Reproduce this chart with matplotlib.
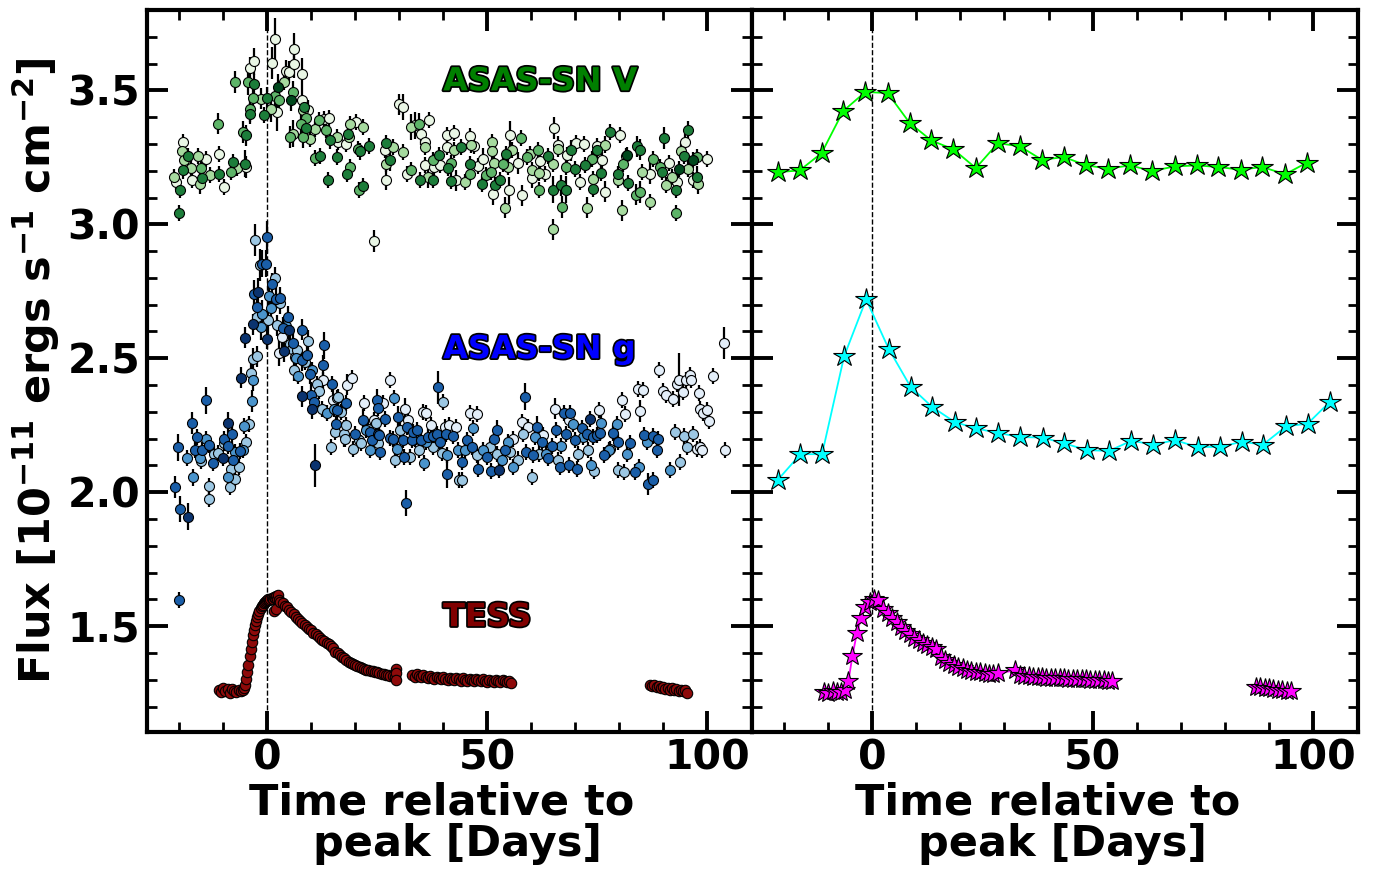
import numpy as np
import matplotlib.pyplot as plt
import matplotlib.patheffects as pe
from matplotlib.ticker import MultipleLocator

plt.rcParams['font.family'] = 'DejaVu Sans'
plt.rcParams['font.weight'] = 'bold'
plt.rcParams['axes.labelweight'] = 'bold'
plt.rcParams['mathtext.default'] = 'bf'

# ASAS-SN V light curve, one list per camera: (days from peak, flux, error)
v_cam1 = [(-20.8,3.158,.03),(-19.2,3.307,.03),(-17.0,3.164,.03),(-13.9,3.245,.03),(-11.0,3.264,.03),
          (-9.9,3.139,.03),(-4.9,3.214,.04),(-4.0,3.583,.04),(-3.0,3.608,.05),(1.0,3.602,.06),
          (1.9,3.690,.08),(2.3,3.419,.07),(4.2,3.572,.04),(4.9,3.568,.04),(6.1,3.655,.06),
          (6.1,3.597,.05),(8.0,3.560,.06),(7.9,3.463,.04),(9.2,3.425,.04),(13.0,3.394,.03),
          (14.0,3.398,.03),(16.1,3.307,.03),(17.9,3.299,.03),(20.1,3.382,.03),(24.2,2.938,.04),
          (26.7,3.276,.03),(27.0,3.167,.04),(29.9,3.448,.04),(30.8,3.438,.05),(31.8,3.189,.03),
          (33.7,3.369,.05),(35.0,3.338,.04),(35.8,3.307,.04),(36.8,3.388,.03),(35.8,3.220,.03),
          (38.0,3.214,.04),(39.2,3.223,.03),(40.8,3.332,.03),(40.8,3.289,.03),(42.5,3.341,.03),
          (42.9,3.164,.04),(46.0,3.328,.03),(47.1,3.294,.03),(48.0,3.218,.03),(49.0,3.245,.04),
          (51.3,3.114,.04),(55.2,3.335,.05),(55.0,3.127,.05),(57.1,3.229,.04),(57.9,3.108,.04),
          (60.1,3.174,.04),(62.0,3.235,.04),(63.2,3.187,.03),(65.1,3.359,.04),(66.0,3.298,.03),
          (68.2,3.257,.03),(70.2,3.303,.03),(71.0,3.158,.03),(72.0,3.301,.03),(74.9,3.294,.03),
          (76.0,3.239,.03),(76.9,3.122,.04),(80.1,3.335,.03),(81.5,3.254,.03),(87.0,3.189,.04),
          (91.4,3.229,.03),(93.1,3.158,.03),(95.0,3.307,.03),(96.7,3.164,.03),(99.9,3.245,.03)]
v_cam2 = [(-21.2,3.177,.03),(-19.3,3.274,.03),(-18.9,3.239,.03),(-17.3,3.210,.03),(-15.8,3.254,.03),
          (-15.2,3.152,.04),(-12.9,3.183,.03),(-6.8,3.211,.03),(-1.4,3.469,.04),(0.8,3.432,.05),
          (3.8,3.531,.03),(5.8,3.338,.05),(8.1,3.425,.04),(9.8,3.320,.03),(10.8,3.357,.03),
          (15.9,3.326,.03),(18.7,3.326,.03),(18.9,3.376,.03),(21.9,3.363,.03),(27.0,3.224,.03),
          (28.7,3.289,.03),(30.8,3.270,.03),(32.7,3.363,.05),(35.9,3.289,.03),(36.6,3.177,.04),
          (42.4,3.279,.03),(45.0,3.158,.03),(46.3,3.298,.03),(51.0,3.307,.03),(51.0,3.274,.03),
          (51.6,3.230,.03),(54.1,3.062,.04),(54.8,3.214,.03),(55.7,3.279,.03),(59.8,3.261,.03),
          (60.1,3.201,.03),(61.9,3.192,.03),(64.9,3.226,.03),(64.9,2.981,.04),(66.2,3.282,.03),
          (72.6,3.062,.04),(74.1,3.170,.03),(76.9,3.298,.03),(79.8,3.164,.03),(80.6,3.052,.04),
          (85.1,3.195,.03),(87.0,3.083,.03),(90.7,3.146,.03),(92.1,3.177,.03),(94.0,3.274,.03),
          (95.7,3.207,.03),(98.0,3.152,.04)]
v_cam3 = [(-15.0,3.210,.03),(-11.1,3.376,.04),(-8.2,3.195,.03),(-7.2,3.531,.04),(-5.4,3.345,.04),
          (-4.4,3.531,.05),(-4.0,3.432,.05),(-3.3,3.471,.04),(1.7,3.478,.04),(2.8,3.465,.04),
          (5.8,3.494,.04),(5.1,3.326,.04),(8.9,3.397,.04),(7.7,3.376,.04),(8.1,3.326,.04),
          (11.9,3.391,.03),(13.4,3.351,.03),(10.9,3.249,.03),(20.6,3.282,.03),(18.9,3.214,.03),
          (20.9,3.129,.03),(32.7,3.204,.03),(34.6,3.376,.04),(37.7,3.239,.03),(41.8,3.229,.03),
          (46.0,3.189,.03),(49.8,3.183,.03),(50.8,3.195,.03),(53.7,3.226,.03),(57.6,3.323,.03),
          (59.0,3.251,.03),(61.6,3.279,.03),(61.9,3.127,.03),(67.1,3.065,.04),(67.9,3.214,.03),
          (73.8,3.245,.03),(80.8,3.226,.03),(83.8,3.111,.04),(84.8,3.120,.04),(87.8,3.245,.03),
          (89.3,3.214,.03),(92.9,3.044,.03),(97.6,3.251,.03)]
v_cam4 = [(-19.9,3.127,.03),(-20.1,3.044,.03),(-19.2,3.201,.03),(-17.9,3.255,.03),(-14.8,3.174,.03),
          (-11.0,3.187,.03),(-7.8,3.231,.03),(-5.1,3.226,.05),(-4.9,3.332,.04),(-3.0,3.522,.04),
          (-4.0,3.413,.04),(-0.6,3.407,.03),(0.0,3.471,.04),(8.3,3.438,.04),(8.9,3.359,.04),
          (12.0,3.254,.03),(13.8,3.167,.03),(14.3,3.313,.03),(15.9,3.251,.03),(18.3,3.338,.03),
          (21.0,3.272,.03),(18.1,3.189,.03),(21.9,3.142,.03),(23.1,3.291,.03),(27.0,3.303,.03),
          (28.0,3.239,.04),(34.8,3.164,.03),(37.8,3.164,.03),(39.0,3.257,.03),(41.1,3.210,.03),
          (41.9,3.162,.03),(44.1,3.289,.03),(46.1,3.224,.03),(48.9,3.149,.03),(51.8,3.146,.03),
          (52.9,3.164,.03),(54.2,3.264,.03),(63.9,3.254,.03),(64.9,3.129,.05),(66.9,3.146,.04),
          (67.9,3.129,.05),(69.0,3.276,.04),(70.0,3.207,.03),(72.3,3.220,.03),(74.0,3.133,.03),
          (74.9,3.276,.03),(75.8,3.192,.03),(78.0,3.344,.03),(79.7,3.189,.03),(82.1,3.154,.03),
          (84.0,3.291,.04),(84.8,3.279,.04),(89.7,3.195,.03),(90.1,3.322,.04),(92.9,3.127,.03),
          (94.8,3.254,.03),(95.7,3.354,.03),(97.8,3.177,.04)]
v_cam5 = [(2.4,3.512,.05),(5.5,3.463,.04),(81.9,3.257,.03),(93.7,3.207,.03),(96.9,3.239,.03)]

# ASAS-SN g light curve, one list per camera
g_cam1 = [(3.3,2.580,.04),(2.8,2.520,.05),(12.7,2.420,.03),(14.9,2.346,.04),(18.2,2.402,.04),
          (19.2,2.428,.03),(22.0,2.333,.03),(24.2,2.271,.03),(26.4,2.333,.03),(28.0,2.420,.03),
          (31.4,2.312,.04),(32.1,2.269,.03),(35.5,2.300,.03),(36.1,2.296,.03),(37.2,2.250,.03),
          (40.4,2.244,.03),(41.4,2.250,.03),(42.9,2.244,.03),(46.1,2.296,.03),(47.6,2.291,.03),
          (55.8,2.200,.03),(57.9,2.262,.03),(59.4,2.244,.03),(62.8,2.213,.03),(65.4,2.312,.04),
          (68.5,2.269,.03),(75.5,2.308,.03),(80.6,2.343,.03),(81.3,2.291,.03),(84.4,2.387,.03),
          (85.4,2.381,.03),(84.8,2.303,.04),(89.1,2.455,.03),(89.9,2.378,.03),(90.7,2.362,.03),
          (92.3,2.349,.03),(93.2,2.405,.03),(93.5,2.420,.10),(94.5,2.374,.03),(95.2,2.420,.03),
          (96.1,2.437,.03),(96.3,2.420,.03),(97.6,2.163,.03),(98.4,2.169,.03),(98.8,2.159,.03),
          (98.2,2.371,.03),(98.4,2.312,.03),(99.1,2.296,.03),(99.9,2.306,.03),(100.5,2.266,.03),
          (101.3,2.433,.03),(103.9,2.557,.06),(104.1,2.157,.03)]
g_cam2 = [(-15.0,2.117,.03),(-13.3,2.024,.03),(-13.1,1.976,.03),(-12.1,2.144,.03),(-11.1,2.148,.03),
          (-9.7,2.184,.03),(-8.4,2.020,.03),(-8.3,2.085,.03),(-7.3,2.051,.03),(-6.4,2.095,.03),
          (-4.8,2.188,.03),(-4.2,2.254,.03),(-3.6,2.445,.04),(-3.1,2.499,.04),(-2.2,2.507,.04),
          (-2.2,2.654,.05),(-2.7,2.943,.06),(-1.6,2.847,.06),(0.3,2.642,.05),(1.8,2.801,.04),
          (2.9,2.706,.04),(2.2,2.623,.04),(5.1,2.555,.03),(5.6,2.536,.03),(6.0,2.455,.04),
          (6.4,2.505,.03),(6.9,2.530,.03),(8.6,2.486,.03),(9.4,2.565,.04),(11.3,2.405,.03),
          (11.9,2.378,.03),(12.4,2.312,.03),(15.8,2.353,.03),(16.2,2.356,.03),(16.9,2.300,.03),
          (15.5,2.225,.03),(17.5,2.219,.05),(14.5,2.169,.03),(18.0,2.250,.03),(17.6,2.200,.03),
          (19.6,2.163,.03),(20.9,2.194,.03),(21.4,2.184,.03),(23.0,2.237,.03),(24.8,2.259,.03),
          (25.3,2.182,.03),(29.1,2.119,.03),(30.2,2.234,.03),(32.5,2.132,.03),(34.6,2.157,.03),
          (37.8,2.169,.03),(39.9,2.337,.03),(39.7,2.147,.03),(43.7,2.045,.03),(44.2,2.047,.03),
          (47.6,2.138,.03),(50.7,2.169,.03),(52.2,2.144,.03),(55.2,2.150,.03),(57.1,2.122,.03),
          (58.2,2.219,.03),(60.1,2.057,.03),(61.9,2.144,.03),(66.0,2.119,.03),(70.7,2.144,.03),
          (73.0,2.157,.03),(74.3,2.080,.03),(77.9,2.163,.03),(79.7,2.082,.03),(81.0,2.076,.03),
          (92.7,2.225,.03),(93.8,2.113,.03),(94.8,2.209,.03),(96.7,2.219,.03),(95.5,2.169,.03)]
g_cam3 = [(-18.1,2.129,.03),(-16.9,2.055,.03),(-15.3,2.126,.03),(-13.9,2.197,.03),(-9.0,2.057,.03),
          (-7.4,2.150,.03),(-5.4,2.157,.03),(-5.2,2.246,.03),(-3.5,2.341,.04),(-3.1,2.418,.04),
          (-1.4,2.617,.05),(-1.2,2.667,.05),(0.5,2.731,.05),(0.9,2.687,.04),(4.3,2.619,.04),
          (6.6,2.502,.03),(7.1,2.433,.03),(10.2,2.455,.03),(13.6,2.294,.03),(15.3,2.312,.03),
          (22.5,2.231,.03),(23.3,2.157,.03),(28.9,2.353,.03),(29.5,2.163,.03),(33.6,2.200,.03),
          (35.6,2.109,.03),(36.1,2.188,.03),(40.8,2.138,.03),(43.3,2.157,.03),(45.0,2.157,.03),
          (46.9,2.238,.03),(49.0,2.159,.03),(53.3,2.119,.03),(54.8,2.188,.03),(55.8,2.095,.03),
          (60.9,2.206,.03),(63.4,2.144,.03),(66.7,2.172,.03),(69.6,2.256,.03),(71.7,2.206,.03),
          (73.5,2.101,.03),(75.9,2.259,.03),(77.6,2.157,.03),(79.5,2.254,.03),(81.7,2.144,.03),
          (84.6,2.095,.03),(86.3,2.188,.03),(91.6,2.082,.03)]
g_cam4 = [(-20.9,2.020,.04),(-19.9,1.937,.05),(-20.2,2.167,.05),(-20.0,1.597,.03),(-17.1,2.259,.04),
          (-16.0,2.206,.03),(-16.4,2.157,.03),(-14.8,2.159,.03),(-13.8,2.343,.05),(-13.1,2.175,.03),
          (-12.2,2.109,.03),(-9.9,2.200,.03),(-8.8,2.172,.03),(-8.0,2.219,.04),(-7.8,2.122,.03),
          (-6.1,2.154,.03),(-2.2,2.692,.04),(-2.9,2.741,.05),(-0.1,2.953,.06),(-1.2,2.853,.05),
          (-0.2,2.853,.05),(1.1,2.779,.04),(2.0,2.723,.04),(3.0,2.725,.04),(3.7,2.614,.04),
          (4.7,2.654,.04),(5.8,2.557,.04),(7.9,2.607,.04),(8.0,2.493,.04),(9.0,2.511,.04),
          (9.8,2.443,.04),(9.9,2.362,.05),(10.7,2.337,.03),(13.0,2.549,.05),(12.8,2.474,.04),
          (14.7,2.403,.03),(15.8,2.308,.04),(17.9,2.333,.03),(15.7,2.256,.03),(20.0,2.219,.03),
          (21.8,2.269,.04),(23.4,2.225,.03),(23.8,2.194,.03),(24.9,2.346,.04),(25.1,2.316,.03),
          (25.1,2.219,.03),(25.7,2.150,.03),(25.5,2.213,.03),(26.8,2.275,.03),(28.0,2.204,.03),
          (28.7,2.197,.03),(29.8,2.281,.04),(30.8,2.194,.03),(31.0,2.132,.03),(31.6,1.960,.05),
          (31.7,2.244,.03),(32.9,2.194,.03),(33.1,2.225,.03),(34.0,2.231,.03),(35.0,2.194,.03),
          (36.6,2.206,.03),(37.6,2.209,.03),(38.9,2.391,.06),(38.7,2.219,.03),(39.3,2.188,.03),
          (40.6,2.219,.03),(40.8,2.067,.05),(42.2,2.209,.03),(45.4,2.194,.03),(44.2,2.113,.03),
          (46.5,2.169,.03),(48.0,2.088,.03),(49.9,2.132,.03),(50.8,2.080,.03),(51.6,2.200,.03),
          (52.3,2.231,.04),(54.1,2.157,.03),(58.6,2.356,.05),(58.8,2.150,.03),(60.5,2.138,.03),
          (61.3,2.244,.04),(62.4,2.188,.03),(63.9,2.126,.03),(64.7,2.172,.03),(65.7,2.231,.03),
          (66.6,2.095,.03),(67.5,2.294,.03),(67.9,2.219,.03),(68.8,2.294,.03),(68.7,2.101,.03),
          (70.0,2.194,.03),(70.5,2.088,.03),(71.5,2.238,.03),(72.6,2.219,.03),(74.0,2.206,.03),
          (74.9,2.213,.03),(75.7,2.222,.03),(76.6,2.138,.03),(78.7,2.222,.03),(79.8,2.188,.03),
          (82.5,2.182,.03),(83.6,2.076,.03),(85.7,2.213,.03),(86.6,2.030,.04),(87.8,2.047,.03),
          (87.6,2.209,.03),(88.9,2.197,.03),(88.5,2.157,.03)]
g_cam5 = [(-17.9,1.908,.05),(-10.1,2.129,.03),(-9.0,2.259,.04),(-6.0,2.428,.04),(-5.0,2.577,.04),
          (-3.1,2.627,.04),(-2.0,2.748,.05),(-0.1,2.573,.04),(4.9,2.604,.04),(3.9,2.527,.04),
          (7.9,2.358,.04),(10.2,2.312,.04),(10.9,2.101,.08),(52.8,2.082,.03),(73.4,2.275,.03)]

# TESS light curve
tess_t = [-11.0,-10.5,-10.0,-9.5,-9.0,-8.5,-8.0,-7.5,-7.0,-6.5,-6.0,-5.5,
          -5.25,-5.0,-4.75,-4.5,-4.25,-4.0,-3.75,-3.5,-3.25,-3.0,-2.75,-2.5,-2.25,-2.0,
          -1.75,-1.5,-1.25,-1.0,-0.75,-0.5,-0.25,0.0,0.25,0.5,0.75,1.0,1.25,1.5,1.5,1.75,
          2.0,2.0,2.25,2.5,2.75,3.0,
          3.5,4.0,4.5,5.0,5.5,6.0,6.5,7.0,7.5,8.0,8.5,9.0,9.5,10.0,10.5,11.0,11.5,12.0,12.5,
          13.0,13.5,14.0,14.5,15.0,15.5,16.0,16.5,17.0,17.5,18.0,18.5,19.0,19.5,20.0,20.5,
          21.0,21.5,22.0,22.5,23.0,23.5,24.0,24.5,25.0,25.5,26.0,26.5,27.0,27.5,28.0,28.5,
          29.0,29.3,29.3,29.3,
          33.0,33.5,34.0,34.5,35.0,35.5,36.0,36.5,37.0,37.5,38.0,38.5,39.0,39.5,40.0,40.5,
          41.0,41.5,42.0,42.5,43.0,43.5,44.0,44.5,45.0,45.5,46.0,46.5,47.0,47.5,48.0,48.5,
          49.0,49.5,50.0,50.5,51.0,51.5,52.0,52.5,53.0,53.5,54.0,54.5,55.0,55.5,
          87.0,87.5,88.0,88.5,89.0,89.5,90.0,90.5,91.0,91.5,92.0,92.5,93.0,93.5,94.0,94.5,
          95.0,95.5]
tess_f = [1.262,1.254,1.268,1.258,1.264,1.251,1.266,1.259,1.255,1.263,1.257,1.261,
          1.268,1.282,1.301,1.327,1.356,1.388,1.416,1.442,1.466,1.487,1.503,1.519,1.533,1.546,
          1.557,1.566,1.574,1.580,1.586,1.590,1.594,1.597,1.600,1.598,1.603,1.605,1.600,1.608,
          1.555,1.604,1.612,1.565,1.601,1.618,1.598,1.590,
          1.585,1.577,1.570,1.562,1.553,1.546,1.536,1.528,1.521,1.512,1.506,1.497,1.490,1.484,
          1.476,1.470,1.462,1.457,1.450,1.445,1.438,1.433,1.426,1.419,1.405,1.398,1.392,1.385,
          1.380,1.374,1.368,1.364,1.359,1.355,1.351,1.347,1.344,1.341,1.338,1.336,1.333,1.331,
          1.329,1.327,1.325,1.323,1.321,1.319,1.317,1.315,1.313,1.311,1.340,1.325,1.298,
          1.318,1.312,1.320,1.314,1.309,1.316,1.311,1.306,1.313,1.308,1.304,1.311,1.306,1.302,
          1.309,1.304,1.300,1.307,1.303,1.299,1.306,1.301,1.297,1.305,1.300,1.296,1.303,1.299,
          1.295,1.302,1.298,1.294,1.301,1.297,1.293,1.300,1.296,1.292,1.299,1.295,1.291,1.298,
          1.294,1.290,1.297,1.287,
          1.282,1.276,1.279,1.272,1.276,1.269,1.273,1.266,1.270,1.263,1.268,1.261,1.265,1.259,
          1.263,1.257,1.262,1.250]

# binned light curves (right panel)
vbin_t = [-21.5,-16.5,-11.5,-6.6,-1.6,3.5,8.5,13.4,18.4,23.5,28.5,33.5,38.5,43.5,48.6,53.6,
          58.5,63.5,68.6,73.6,78.5,83.6,88.5,93.7,98.6]
vbin_f = [3.195,3.201,3.266,3.423,3.494,3.490,3.378,3.313,3.280,3.210,3.303,3.291,3.241,3.251,
          3.220,3.208,3.220,3.199,3.216,3.220,3.214,3.204,3.214,3.187,3.230]
gbin_t = [-21.5,-16.3,-11.4,-6.4,-1.4,3.7,8.7,13.6,18.7,23.6,28.6,33.5,38.7,43.6,48.8,53.7,
          58.8,63.8,68.7,73.8,78.8,83.8,88.7,93.9,98.8,103.8]
gbin_f = [2.045,2.142,2.142,2.507,2.720,2.536,2.393,2.318,2.262,2.238,2.221,2.206,2.204,2.182,
          2.157,2.154,2.192,2.178,2.194,2.169,2.169,2.188,2.178,2.246,2.256,2.337]
tbin_t = [-11.0,-10.0,-9.0,-8.0,-7.0,-6.2,-5.4,-4.5,-3.5,-2.5,-1.6,-0.6,0.4,1.4,
          2.5,3.5,4.5,5.5,6.5,7.5,8.5,9.5,10.5,11.5,12.5,13.5,14.5,15.5,16.5,17.5,18.5,19.5,
          20.5,21.5,22.5,23.5,24.5,25.5,26.5,27.5,28.5,
          32.4,33.5,34.5,35.5,36.5,37.5,38.5,39.5,40.5,41.5,42.5,43.5,44.5,45.5,46.5,47.5,
          48.5,49.5,50.5,51.5,52.5,53.5,54.5,
          87.0,88.0,89.0,90.0,91.0,92.0,93.0,94.0,95.0]
tbin_f = [1.255,1.252,1.257,1.254,1.256,1.262,1.297,1.390,1.474,1.531,1.571,1.590,1.602,1.596,
          1.565,1.548,1.532,1.515,1.498,1.482,1.469,1.457,1.447,1.437,1.429,1.421,1.413,1.384,
          1.372,1.362,1.354,1.348,1.343,1.338,1.334,1.330,1.327,1.325,1.323,1.322,1.324,
          1.335,1.318,1.315,1.313,1.312,1.310,1.309,1.308,1.307,1.306,1.305,1.305,1.304,1.303,
          1.302,1.302,1.301,1.300,1.300,1.299,1.298,1.297,1.296,
          1.274,1.272,1.270,1.268,1.265,1.263,1.261,1.259,1.257]

greens = ['#e9f6e5', '#a6da9f', '#5db468', '#1c7d3a', '#00481d']
blues = ['#e3eef9', '#9cc7e3', '#4a94cc', '#1a5ea8', '#0a336f']


def plot_cam(ax, rows, color):
    t, f, e = np.array(rows).T
    ax.errorbar(t, f, yerr=e, fmt='o', ms=7.2, mfc=color, mec='k', mew=0.8,
                ecolor='k', elinewidth=1.6, capsize=0, zorder=2)


def plot_binned(ax, t, f, color, ms):
    t = np.asarray(t)
    f = np.asarray(f)
    # break the line across the long gaps in coverage
    cuts = np.where(np.diff(t) > 10)[0] + 1
    for tt, ff in zip(np.split(t, cuts), np.split(f, cuts)):
        ax.plot(tt, ff, '-', color=color, lw=1.3, zorder=2)
    ax.plot(t, f, '*', ms=ms, mfc=color, mec='k', mew=0.8, ls='none', zorder=3)


fig = plt.figure(figsize=(13.74, 8.72), dpi=100)
ax1 = fig.add_axes([0.107, 0.1606, 0.4403, 0.8279])
ax2 = fig.add_axes([0.5473, 0.1606, 0.4410, 0.8279])

for rows, c in zip([v_cam1, v_cam2, v_cam3, v_cam4, v_cam5], greens):
    plot_cam(ax1, rows, c)
for rows, c in zip([g_cam1, g_cam2, g_cam3, g_cam4, g_cam5], blues):
    plot_cam(ax1, rows, c)
ax1.plot(tess_t, tess_f, 'o', ms=7.5, mfc='#8e0a0a', mec='k', mew=0.8, zorder=2)

plot_binned(ax2, vbin_t, vbin_f, '#00ff00', 16)
plot_binned(ax2, gbin_t, gbin_f, '#00ffff', 16)
plot_binned(ax2, tbin_t, tbin_f, '#ff00ff', 15)

outline = [pe.withStroke(linewidth=2.5, foreground='k')]
ax1.text(40, 3.5, 'ASAS-SN V', color='#008000', fontsize=23, path_effects=outline)
ax1.text(40, 2.5, 'ASAS-SN g', color='#0000ff', fontsize=23, path_effects=outline)
ax1.text(40, 1.5, 'TESS', color='#800000', fontsize=23, path_effects=outline)

for ax in (ax1, ax2):
    ax.axvline(0, color='k', ls='--', lw=1.0, zorder=1)
    ax.set_xlim(-27.3, 110.2)
    ax.set_ylim(1.105, 3.80)
    ax.xaxis.set_major_locator(MultipleLocator(50))
    ax.xaxis.set_minor_locator(MultipleLocator(10))
    ax.yaxis.set_major_locator(MultipleLocator(0.5))
    ax.yaxis.set_minor_locator(MultipleLocator(0.1))
    ax.tick_params(which='both', direction='in', top=True, right=True)
    ax.tick_params(which='major', length=15, width=2.8, labelsize=29.5, pad=5)
    ax.tick_params(which='minor', length=7.5, width=2.0)
    for s in ax.spines.values():
        s.set_linewidth(3)
    ax.set_xlabel('Time relative to \n peak [Days]', fontsize=31, linespacing=0.98,
                  labelpad=2)

ax2.tick_params(labelleft=False)
ax1.set_ylabel(r'Flux [10$^{-11}$ ergs s$^{-1}$ cm$^{-2}$]', fontsize=31, labelpad=4)

fig.savefig('out.png', dpi=100)
